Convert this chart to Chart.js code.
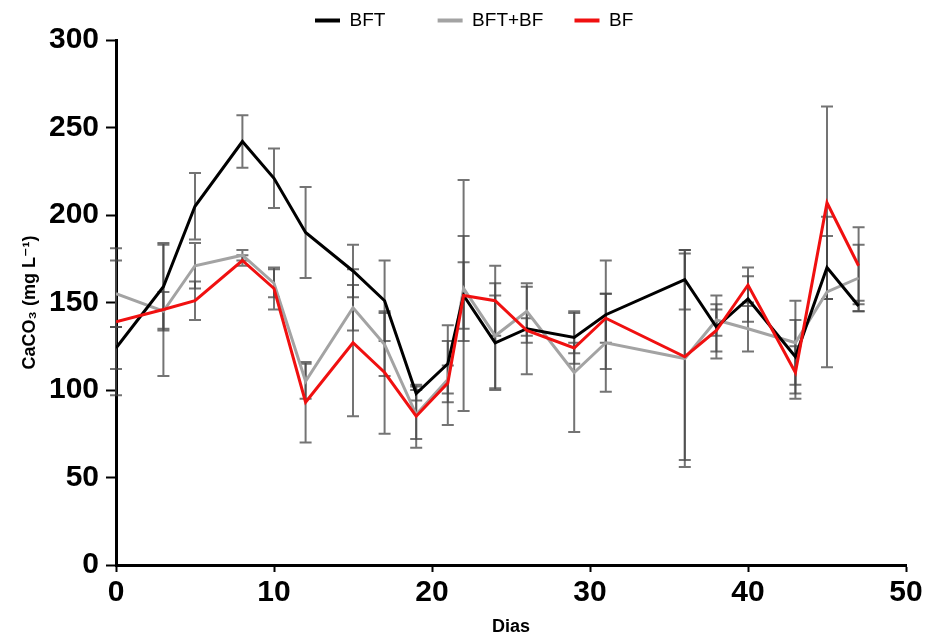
<!DOCTYPE html>
<html>
<head>
<meta charset="utf-8">
<script src="https://cdn.jsdelivr.net/npm/chart.js@4.4.1/dist/chart.umd.min.js"></script>
<style>
  html, body { margin: 0; padding: 0; background: #fff; }
  #wrap { width: 926px; height: 639px; }
</style>
</head>
<body>
<div id="wrap"><canvas id="grafico" width="926" height="639"></canvas></div>
<script>
// Dias de coleta
const dias = [0, 3, 5, 8, 10, 12, 15, 17, 19, 21, 22, 24, 26, 29, 31, 36, 38, 40, 43, 45, 47];

// Médias de CaCO3 (mg L-1)
const bft   = [124, 159, 205, 242, 221, 190, 168, 151, 98, 115, 154, 127, 135, 130, 143, 163, 136, 152, 119, 170, 148];
const bftBf = [155, 145, 171, 177, 161, 105, 147, 126, 86, 106, 158, 131, 145, 110, 127, 118, 140, 135, 127, 156, 164];
const bf    = [139, 146, 151, 174, 158, 93, 127, 110, 85, 104, 154, 151, 134, 124, 141, 119, 134, 160, 110, 207, 171];

// Desvios padrão
const bftSd   = [12, 24, 19, 15, 17, 26, 15, 23, 4, 22, 19, 27, 26, 15, 31, 17, 18, 13, 21, 18, 3];
const bftBfSd = [19, 11, 13, 3, 8, 10, 13, 18, 14, 8, 30, 30, 14, 34, 28, 62, 9, 13, 24, 43, 19];
const bfSd    = [42, 38, 11, 3, 12, 23, 42, 35, 18, 24, 66, 20, 7, 3, 14, 59, 12, 10, 15, 55, 22];

const yTicks = [0, 50, 100, 150, 200, 250, 300];
const xTicks = [0, 10, 20, 30, 40, 50];

const fonte = "Arial, 'Liberation Sans', 'DejaVu Sans', sans-serif";

function pontos(valores) {
    return dias.map((d, i) => ({ x: d, y: valores[i] }));
}

// Barras de erro (media +/- dp) desenhadas antes das linhas
const barrasErro = {
    id: 'barrasErro',
    beforeDatasetsDraw(chart) {
        const { ctx, scales: { x, y } } = chart;
        const grupos = [[bft, bftSd], [bftBf, bftBfSd], [bf, bfSd]];
        ctx.save();
        ctx.strokeStyle = 'rgba(70, 70, 70, 0.75)';
        ctx.lineWidth = 2;
        grupos.forEach(([media, dp]) => {
            media.forEach((m, i) => {
                const px = x.getPixelForValue(dias[i]);
                const yTop = y.getPixelForValue(m + dp[i]);
                const yBot = y.getPixelForValue(m - dp[i]);
                ctx.beginPath();
                ctx.moveTo(px, yTop);
                ctx.lineTo(px, yBot);
                ctx.moveTo(px - 6, yTop);
                ctx.lineTo(px + 6, yTop);
                ctx.moveTo(px - 6, yBot);
                ctx.lineTo(px + 6, yBot);
                ctx.stroke();
            });
        });
        ctx.restore();
    }
};

// Posiciona a legenda como no original
const moverLegenda = {
    id: 'moverLegenda',
    afterLayout(chart) {
        chart.legend.left = 305;
    }
};

const ctx = document.getElementById('grafico').getContext('2d');

new Chart(ctx, {
    type: 'line',
    data: {
        datasets: [
            {
                label: 'BFT',
                data: pontos(bft),
                borderColor: '#000000',
                backgroundColor: '#000000',
                borderWidth: 3,
                order: 2
            },
            {
                label: 'BFT+BF',
                data: pontos(bftBf),
                borderColor: '#a3a3a3',
                backgroundColor: '#a3a3a3',
                borderWidth: 3,
                order: 3
            },
            {
                label: 'BF',
                data: pontos(bf),
                borderColor: '#f01010',
                backgroundColor: '#f01010',
                borderWidth: 3,
                order: 1
            }
        ]
    },
    options: {
        responsive: false,
        animation: false,
        layout: { padding: { top: 1, right: 20, bottom: 0, left: 0 } },
        elements: {
            point: { radius: 0 },
            line: { tension: 0 }
        },
        scales: {
            x: {
                type: 'linear',
                min: 0,
                max: 50,
                afterBuildTicks: scale => { scale.ticks = xTicks.map(v => ({ value: v })); },
                afterFit: scale => { scale.height = 74; },
                grid: { drawOnChartArea: false, drawTicks: true, tickLength: 7, tickWidth: 2, tickColor: '#000' },
                border: { display: true, width: 3, color: '#000' },
                ticks: { color: '#000', padding: 3, font: { family: fonte, size: 30, weight: 'bold' } },
                title: {
                    display: true,
                    text: 'Dias',
                    color: '#000',
                    padding: { top: 0, bottom: 1 },
                    font: { family: fonte, size: 18, weight: 'bold' }
                }
            },
            y: {
                min: 0,
                max: 300,
                afterBuildTicks: scale => { scale.ticks = yTicks.map(v => ({ value: v })); },
                afterFit: scale => { scale.width = 116; },
                grid: { drawOnChartArea: false, drawTicks: true, tickLength: 10, tickWidth: 2, tickColor: '#000' },
                border: { display: true, width: 3, color: '#000' },
                ticks: { color: '#000', padding: 7, font: { family: fonte, size: 30, weight: 'bold' } },
                title: {
                    display: true,
                    text: 'CaCO₃ (mg L⁻¹)',
                    color: '#000',
                    padding: { top: 19, bottom: 0 },
                    font: { family: fonte, size: 18, weight: 'bold' }
                }
            }
        },
        plugins: {
            tooltip: { enabled: false },
            legend: {
                position: 'top',
                align: 'start',
                labels: {
                    color: '#000',
                    boxWidth: 25,
                    boxHeight: 4,
                    padding: 10,
                    font: { family: fonte, size: 19 },
                    generateLabels: chart => {
                        const extra = ['        ', '    ', ''];
                        return Chart.defaults.plugins.legend.labels.generateLabels(chart)
                            .sort((a, b) => a.datasetIndex - b.datasetIndex)
                            .map(item => ({
                                ...item,
                                text: item.text + extra[item.datasetIndex],
                                lineWidth: 0,
                                fillStyle: item.strokeStyle
                            }));
                    }
                }
            }
        }
    },
    plugins: [barrasErro, moverLegenda]
});
</script>
</body>
</html>
